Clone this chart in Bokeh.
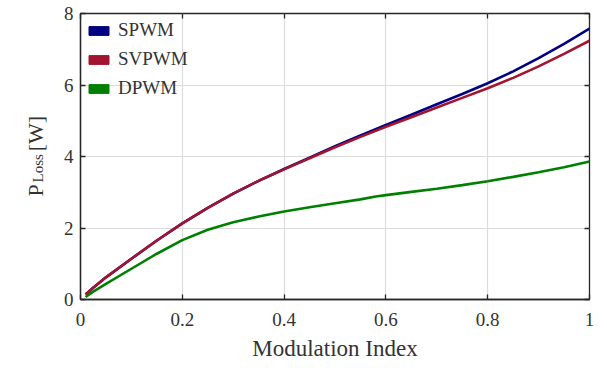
from bokeh.plotting import figure
from bokeh.models import (Range1d, FixedTicker, LinearAxis, Legend, LegendItem, Label)
from bokeh.embed import file_html
from bokeh.resources import INLINE

# Data
mod_index = [0.01, 0.025, 0.05, 0.10, 0.15, 0.20, 0.25, 0.30, 0.35, 0.40, 0.45, 0.50,
             0.55, 0.60, 0.65, 0.70, 0.75, 0.80, 0.85, 0.90, 0.95, 1.00]
spwm = [0.14, 0.33, 0.62, 1.14, 1.65, 2.13, 2.56, 2.96, 3.32, 3.65, 3.97, 4.29,
        4.59, 4.88, 5.17, 5.46, 5.75, 6.05, 6.38, 6.75, 7.15, 7.58]
svpwm = [0.14, 0.33, 0.62, 1.14, 1.65, 2.13, 2.56, 2.96, 3.32, 3.64, 3.95, 4.26,
         4.55, 4.83, 5.10, 5.37, 5.64, 5.91, 6.20, 6.52, 6.87, 7.24]
dpwm_x = [0.01, 0.025, 0.05, 0.10, 0.15, 0.20, 0.25, 0.30, 0.35, 0.40, 0.45, 0.50,
          0.55, 0.58, 0.60, 0.65, 0.70, 0.75, 0.80, 0.85, 0.90, 0.95, 1.00]
dpwm = [0.07, 0.22, 0.44, 0.86, 1.28, 1.66, 1.95, 2.16, 2.32, 2.46, 2.58, 2.69,
        2.80, 2.88, 2.92, 3.01, 3.10, 3.20, 3.31, 3.43, 3.56, 3.70, 3.86]

series_names = ["SPWM", "SVPWM", "DPWM"]
series_colors = ["#000080", "#A2142F", "#008000"]

x_ticks = [0, 0.2, 0.4, 0.6, 0.8, 1]
x_tick_labels = ["0", "0.2", "0.4", "0.6", "0.8", "1"]
y_ticks = [0, 2, 4, 6, 8]

FONT = "Liberation Serif"
AX = "#262626"
TXT = "#333333"

p = figure(frame_width=509, frame_height=286, output_backend="svg",
           toolbar_location=None, x_range=Range1d(0, 1), y_range=Range1d(0, 8),
           min_border_left=80, min_border_top=13, min_border_right=16,
           min_border_bottom=66, background_fill_color="white",
           border_fill_color="white")

p.outline_line_color = AX
p.outline_line_width = 1.3

for ax in (p.xaxis[0], p.yaxis[0]):
    ax.axis_line_color = AX
    ax.axis_line_width = 1.3
    ax.major_tick_line_color = AX
    ax.major_tick_line_width = 1.3
    ax.major_tick_in = 5
    ax.major_tick_out = 0
    ax.minor_tick_line_color = None
    ax.major_label_text_font = FONT
    ax.major_label_text_font_size = "19px"
    ax.major_label_text_color = TXT

p.xaxis[0].ticker = FixedTicker(ticks=x_ticks)
p.xaxis[0].major_label_overrides = dict(zip(x_ticks, x_tick_labels))
p.xaxis[0].major_label_standoff = 13
p.xaxis[0].axis_label = "Modulation Index"
p.xaxis[0].axis_label_text_font = FONT
p.xaxis[0].axis_label_text_font_size = "23px"
p.xaxis[0].axis_label_text_font_style = "normal"
p.xaxis[0].axis_label_text_color = TXT
p.xaxis[0].axis_label_standoff = 7

p.yaxis[0].ticker = FixedTicker(ticks=y_ticks)
p.yaxis[0].major_label_standoff = 7

# top and right axes: ticks only
top = LinearAxis(ticker=FixedTicker(ticks=x_ticks))
right = LinearAxis(ticker=FixedTicker(ticks=y_ticks))
for ax in (top, right):
    ax.axis_line_color = None
    ax.major_tick_line_color = AX
    ax.major_tick_line_width = 1.3
    ax.major_tick_in = 5
    ax.major_tick_out = 0
    ax.minor_tick_line_color = None
    ax.major_label_text_font_size = "0px"
    ax.major_label_text_color = None
    ax.major_label_standoff = 0
p.add_layout(top, "above")
p.add_layout(right, "right")

p.xgrid.ticker = FixedTicker(ticks=x_ticks)
p.ygrid.ticker = FixedTicker(ticks=y_ticks)
p.grid.grid_line_color = "#dcdcdc"
p.grid.grid_line_width = 1.2

p.line(mod_index, spwm, line_color=series_colors[0], line_width=2.6)
p.line(mod_index, svpwm, line_color=series_colors[1], line_width=2.6)
p.line(dpwm_x, dpwm, line_color=series_colors[2], line_width=2.6)

# legend swatches (filled rectangles; placeholder renderers draw nothing)
nan = float("nan")
items = []
for name, col in zip(series_names, series_colors):
    r = p.quad(left=[nan], right=[nan], top=[nan], bottom=[nan],
               fill_color=col, line_color=col)
    items.append(LegendItem(label=name, renderers=[r]))
legend = Legend(items=items, location="top_left", glyph_width=25, glyph_height=11,
                label_text_font="Liberation Serif", label_text_font_size="19px",
                label_text_color=TXT, label_standoff=7, spacing=7,
                label_height=20, padding=0, margin=6,
                background_fill_alpha=0, border_line_color=None)
p.add_layout(legend)

# y-axis label with subscript, placed in the left side panel
NBSP = "\u00a0"
for txt, size, xo, yo in [("P" + NBSP * 6 + "[W]", "22px", -45, 103),
                          ("Loss", "15px", -43, 117)]:
    p.add_layout(Label(x=0, y=0, x_offset=xo, y_offset=yo, text=txt,
                       angle=90, angle_units="deg",
                       text_font=FONT, text_font_size=size, text_color=TXT,
                       text_align="left", text_baseline="alphabetic"), "left")

open("out.html", "w").write(file_html(p, INLINE))
